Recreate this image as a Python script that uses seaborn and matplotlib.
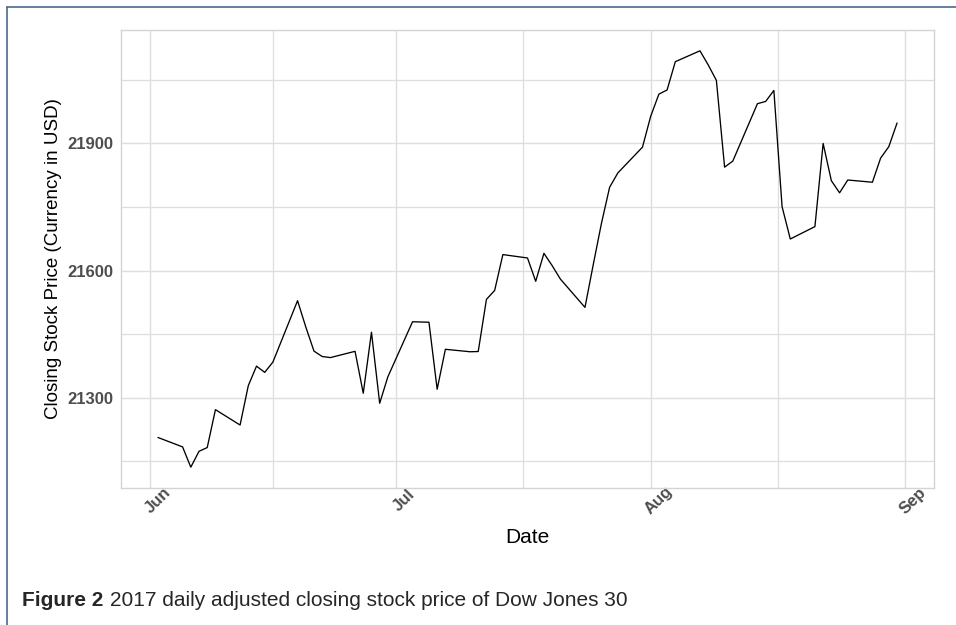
import matplotlib
matplotlib.use("Agg")
import matplotlib.pyplot as plt
import matplotlib.dates as mdates
import matplotlib.transforms as mtransforms
import seaborn as sns
import pandas as pd
import numpy as np

dates = [
    "2017-06-02", "2017-06-05", "2017-06-06", "2017-06-07", "2017-06-08", "2017-06-09",
    "2017-06-12", "2017-06-13", "2017-06-14", "2017-06-15", "2017-06-16",
    "2017-06-19", "2017-06-20", "2017-06-21", "2017-06-22", "2017-06-23",
    "2017-06-26", "2017-06-27", "2017-06-28", "2017-06-29", "2017-06-30",
    "2017-07-03", "2017-07-05", "2017-07-06", "2017-07-07",
    "2017-07-10", "2017-07-11", "2017-07-12", "2017-07-13", "2017-07-14",
    "2017-07-17", "2017-07-18", "2017-07-19", "2017-07-20", "2017-07-21",
    "2017-07-24", "2017-07-25", "2017-07-26", "2017-07-27", "2017-07-28",
    "2017-07-31", "2017-08-01", "2017-08-02", "2017-08-03", "2017-08-04",
    "2017-08-07", "2017-08-08", "2017-08-09", "2017-08-10", "2017-08-11",
    "2017-08-14", "2017-08-15", "2017-08-16", "2017-08-17", "2017-08-18",
    "2017-08-21", "2017-08-22", "2017-08-23", "2017-08-24", "2017-08-25",
    "2017-08-28", "2017-08-29", "2017-08-30", "2017-08-31",
]
close = [
    21206.29, 21184.04, 21136.23, 21173.69, 21182.53, 21271.97,
    21235.67, 21328.47, 21374.56, 21359.90, 21384.28,
    21528.99, 21467.14, 21410.03, 21397.29, 21394.76,
    21409.55, 21310.66, 21454.61, 21287.03, 21349.63,
    21479.27, 21478.17, 21320.04, 21414.34,
    21408.52, 21409.07, 21532.14, 21553.09, 21637.74,
    21629.72, 21574.73, 21640.75, 21611.78, 21580.07,
    21513.17, 21613.43, 21711.01, 21796.55, 21830.31,
    21891.12, 21963.92, 22016.24, 22026.10, 22092.81,
    22118.42, 22085.34, 22048.70, 21844.01, 21858.32,
    21993.71, 21998.99, 22024.87, 21750.73, 21674.51,
    21703.75, 21899.89, 21812.09, 21783.40, 21813.67,
    21808.40, 21865.37, 21892.43, 21948.10,
]
x_breaks = ["2017-06-01", "2017-07-01", "2017-08-01", "2017-09-01"]
x_labels = ["Jun", "Jul", "Aug", "Sep"]
y_breaks = [21300, 21600, 21900]
y_labels = ["21300", "21600", "21900"]

df = pd.DataFrame({"Date": pd.to_datetime(dates), "Close": close})

sns.set_theme(style="white")
plt.rcParams["font.family"] = ["Liberation Sans", "DejaVu Sans"]

fig = plt.figure(figsize=(9.56, 6.25), dpi=100)
ax = fig.add_axes([121 / 956, 1 - 488 / 625, (934 - 121) / 956, (488 - 30) / 625])

sns.lineplot(data=df, x="Date", y="Close", color="black", linewidth=0.95, ax=ax)

# limits with ggplot-like 5% expansion
xnum = mdates.date2num(df["Date"])
xr = xnum.max() - xnum.min()
ax.set_xlim(xnum.min() - 0.05 * xr, xnum.max() + 0.05 * xr)
yr = max(close) - min(close)
ax.set_ylim(min(close) - 0.05 * yr, max(close) + 0.05 * yr)

xb = mdates.date2num(pd.to_datetime(x_breaks))
ax.set_xticks(xb)
ax.set_xticklabels(x_labels)
ax.set_xticks((xb[:-1] + xb[1:]) / 2, minor=True)
ax.set_yticks(y_breaks)
ax.set_yticklabels(y_labels)
yb = np.array(y_breaks, dtype=float)
ystep = yb[1] - yb[0]
ax.set_yticks(np.concatenate([[yb[0] - ystep / 2], (yb[:-1] + yb[1:]) / 2, [yb[-1] + ystep / 2]]), minor=True)

grid_c = "#DEDEDE"
ax.grid(True, which="major", color=grid_c, linewidth=1.0)
ax.grid(True, which="minor", color=grid_c, linewidth=0.9)
ax.set_axisbelow(True)
for s in ax.spines.values():
    s.set_color("#D4D4D4")
    s.set_linewidth(1.0)

ax.tick_params(axis="both", which="both", length=0)
ax.tick_params(axis="y", pad=5.5)
ax.tick_params(axis="x", pad=9)
for lab in ax.get_yticklabels():
    lab.set_fontweight("bold")
    lab.set_color("#4D4D4D")
    lab.set_fontsize(12)
shift = mtransforms.ScaledTranslation(8 / 100, 0, fig.dpi_scale_trans)
for lab in ax.get_xticklabels():
    lab.set_fontweight("bold")
    lab.set_color("#4D4D4D")
    lab.set_fontsize(12)
    lab.set_rotation(45)
    lab.set_ha("center")
    lab.set_va("center")
    lab.set_rotation_mode("anchor")
    lab.set_clip_on(False)
    lab.set_transform(lab.get_transform() + shift)

ax.set_xlabel("Date", fontsize=15, color="black")
ax.xaxis.set_label_coords(0.5, (488 - 528) / 458)
ax.set_ylabel("Closing Stock Price (Currency in USD)", fontsize=13.5, color="black")
ax.yaxis.set_label_coords((62 - 121) / 813, 0.5)

# caption
fig.text(22 / 956, 1 - 600 / 625, "Figure 2", fontsize=15, fontweight="bold", va="center", ha="left")
fig.text(110 / 956, 1 - 600 / 625, "2017 daily adjusted closing stock price of Dow Jones 30", fontsize=15,
         va="center", ha="left")

# outer page frame (top and left)
frame_c = "#4A6A90"
fig.add_artist(plt.Line2D([7 / 956, 1.0], [1 - 7 / 625, 1 - 7 / 625], transform=fig.transFigure,
                          color=frame_c, linewidth=1.2))
fig.add_artist(plt.Line2D([7 / 956, 7 / 956], [0.0, 1 - 7 / 625], transform=fig.transFigure,
                          color=frame_c, linewidth=1.2))

fig.savefig("out.png", dpi=100)
